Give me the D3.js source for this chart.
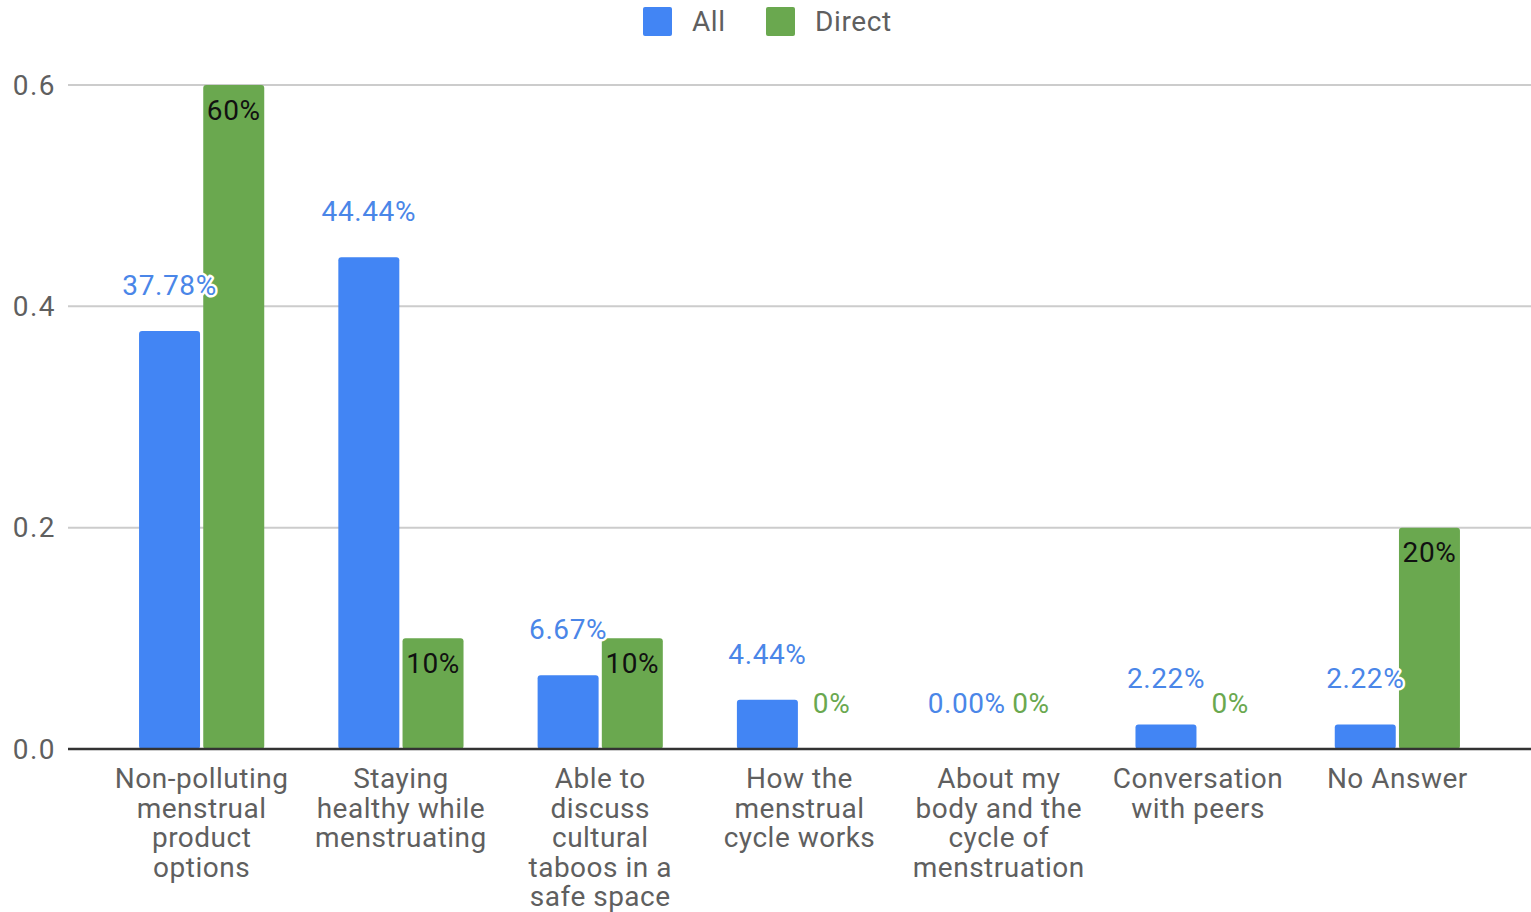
<!DOCTYPE html>
<html>
<head>
<meta charset="utf-8">
<script src="https://cdn.jsdelivr.net/npm/d3@7"></script>
<style>
  body { margin: 0; background: #fff; }
  text { font-family: Roboto, "Noto Sans", sans-serif; }
</style>
</head>
<body>
<script>
// chart data
const categories = [
  ["Non-polluting", "menstrual", "product", "options"],
  ["Staying", "healthy while", "menstruating"],
  ["Able to", "discuss", "cultural", "taboos in a", "safe space"],
  ["How the", "menstrual", "cycle works"],
  ["About my", "body and the", "cycle of", "menstruation"],
  ["Conversation", "with peers"],
  ["No Answer"]
];
const seriesNames = ["All", "Direct"];
const allValues = [0.3778, 0.4444, 0.0667, 0.0444, 0.0, 0.0222, 0.0222];
const directValues = [0.6, 0.1, 0.1, 0, 0, 0, 0.2];
const allLabels = ["37.78%", "44.44%", "6.67%", "4.44%", "0.00%", "2.22%", "2.22%"];
const directLabels = ["60%", "10%", "10%", "0%", "0%", "0%", "20%"];
const yTicks = [0, 0.2, 0.4, 0.6];
const colors = ["#4285f4", "#6aa84f"];

const width = 1531, height = 912;
const svg = d3.select("body").append("svg")
  .attr("width", width)
  .attr("height", height);

// scales
const x0 = d3.scaleBand()
  .domain(d3.range(categories.length))
  .range([102, 1497]);
const x1 = d3.scaleBand()
  .domain(seriesNames)
  .range([0, x0.bandwidth()])
  .paddingInner(0.05)
  .paddingOuter(0.577);
const y = d3.scaleLinear().domain([0, 0.6]).range([749, 85]);

// gridlines + y tick labels
const grid = svg.append("g");
grid.selectAll("line").data(yTicks.filter(d => d > 0)).join("line")
  .attr("x1", 68).attr("x2", width)
  .attr("y1", d => y(d)).attr("y2", d => y(d))
  .attr("stroke", "#cccccc").attr("stroke-width", 2);
grid.selectAll("text").data(yTicks).join("text")
  .attr("x", 56).attr("y", d => y(d))
  .attr("dy", "0.35em")
  .attr("text-anchor", "end")
  .attr("font-size", 28)
  .attr("letter-spacing", 1.5)
  .attr("fill", "#5f5f5f")
  .text(d => d.toFixed(1));

// bars
const rows = categories.map((c, i) => ({
  i: i,
  vals: [
    {s: "All", v: allValues[i], lab: allLabels[i]},
    {s: "Direct", v: directValues[i], lab: directLabels[i]}
  ]
}));

const groups = svg.append("g").selectAll("g").data(rows).join("g")
  .attr("transform", d => `translate(${x0(d.i)},0)`);

groups.selectAll("rect").data(d => d.vals.filter(v => v.v > 0)).join("rect")
  .attr("x", d => x1(d.s))
  .attr("y", d => y(d.v))
  .attr("width", x1.bandwidth())
  .attr("height", d => y(0) - y(d.v))
  .attr("rx", 3)
  .attr("fill", d => colors[seriesNames.indexOf(d.s)]);

// value labels
groups.selectAll("text.val").data(d => d.vals).join("text")
  .attr("class", "val")
  .attr("x", d => x1(d.s) + x1.bandwidth() / 2)
  .attr("y", d => {
    if (d.s === "Direct" && d.v > 0) return y(d.v) + 25;
    return y(d.v) - 46;
  })
  .attr("dy", "0.35em")
  .attr("text-anchor", "middle")
  .attr("font-size", 28)
  .attr("letter-spacing", 0.6)
  .attr("fill", d => {
    if (d.s === "Direct") return d.v > 0 ? "#111" : "#6aa84f";
    return "#4a86e8";
  })
  .attr("stroke", d => (d.s === "Direct" && d.v > 0) ? "none" : "#fff")
  .attr("stroke-width", 5)
  .attr("stroke-linejoin", "round")
  .attr("paint-order", "stroke")
  .text(d => d.lab);

// baseline
svg.append("line")
  .attr("x1", 68).attr("x2", width)
  .attr("y1", y(0)).attr("y2", y(0))
  .attr("stroke", "#333").attr("stroke-width", 2.5);

// category labels
const xl = svg.append("g").selectAll("text").data(categories).join("text")
  .attr("x", (d, i) => x0(i) + x0.bandwidth() / 2)
  .attr("y", 788)
  .attr("text-anchor", "middle")
  .attr("font-size", 28)
  .attr("letter-spacing", 0.5)
  .attr("fill", "#5f5f5f");
xl.selectAll("tspan").data(d => d).join("tspan")
  .attr("x", function() { return d3.select(this.parentNode).attr("x"); })
  .attr("dy", (d, j) => j === 0 ? 0 : 29.5)
  .text(d => d);

// legend
const legend = svg.append("g");
const legX = [643, 766];
seriesNames.forEach((s, i) => {
  legend.append("rect")
    .attr("x", legX[i]).attr("y", 7)
    .attr("width", 29).attr("height", 29)
    .attr("rx", 2)
    .attr("fill", colors[i]);
  legend.append("text")
    .attr("x", legX[i] + 49).attr("y", 21)
    .attr("dy", "0.35em")
    .attr("font-size", 28)
    .attr("letter-spacing", 0.6)
    .attr("fill", "#5f5f5f")
    .text(s);
});
</script>
</body>
</html>
